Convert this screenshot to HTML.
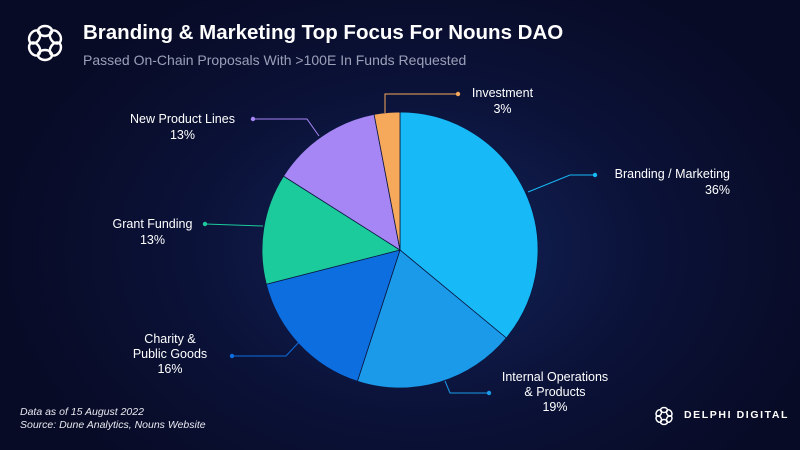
<!DOCTYPE html>
<html><head><meta charset="utf-8"><style>
html,body{margin:0;padding:0;}
body{width:800px;height:450px;overflow:hidden;background:radial-gradient(ellipse 420px 300px at 420px 250px,#13245a 0%,#0b1238 55%,#080b26 100%);font-family:"Liberation Sans",sans-serif;color:#fff;position:relative;}
.t{position:absolute;white-space:nowrap;}
</style></head><body>
<svg width="800" height="450" style="position:absolute;left:0;top:0">
<g fill="none" stroke="#fff" stroke-width="2.4">
<g transform="translate(45,43)">
<ellipse cx="0" cy="-12" rx="7" ry="5" transform="rotate(0)"/>
<ellipse cx="0" cy="-12" rx="7" ry="5" transform="rotate(60)"/>
<ellipse cx="0" cy="-12" rx="7" ry="5" transform="rotate(120)"/>
<ellipse cx="0" cy="-12" rx="7" ry="5" transform="rotate(180)"/>
<ellipse cx="0" cy="-12" rx="7" ry="5" transform="rotate(240)"/>
<ellipse cx="0" cy="-12" rx="7" ry="5" transform="rotate(300)"/>
</g>
</g>
<g fill="none" stroke="#fff" stroke-width="1.5">
<g transform="translate(664,416)">
<ellipse cx="0" cy="-6" rx="3.5" ry="2.5" transform="rotate(0)"/>
<ellipse cx="0" cy="-6" rx="3.5" ry="2.5" transform="rotate(60)"/>
<ellipse cx="0" cy="-6" rx="3.5" ry="2.5" transform="rotate(120)"/>
<ellipse cx="0" cy="-6" rx="3.5" ry="2.5" transform="rotate(180)"/>
<ellipse cx="0" cy="-6" rx="3.5" ry="2.5" transform="rotate(240)"/>
<ellipse cx="0" cy="-6" rx="3.5" ry="2.5" transform="rotate(300)"/>
</g>
</g>
<g stroke="#0c1640" stroke-width="0.8">
<path d="M400,250 L400,112 A138,138 0 0 1 506.3,338 Z" fill="#17b9f6"/>
<path d="M400,250 L506.3,338 A138,138 0 0 1 357.4,381.3 Z" fill="#1a9ae9"/>
<path d="M400,250 L357.4,381.3 A138,138 0 0 1 266.3,284.3 Z" fill="#0d6ee0"/>
<path d="M400,250 L266.3,284.3 A138,138 0 0 1 283.5,176.1 Z" fill="#1ccb9b"/>
<path d="M400,250 L283.5,176.1 A138,138 0 0 1 374.1,114.4 Z" fill="#a686f5"/>
<path d="M400,250 L374.1,114.4 A138,138 0 0 1 400,112 Z" fill="#f6a95b"/>
</g>
<g fill="none" stroke-width="1">
<path d="M528,192 L570,175 L595,175" stroke="#17b9f6"/>
<path d="M445,381 L450,393 L489,393" stroke="#1a9ae9"/>
<path d="M300,341 L286,356 L232,356" stroke="#0d6ee0"/>
<path d="M263,226 L205,224" stroke="#1ccb9b"/>
<path d="M319,136 L307,119 L253,119" stroke="#a686f5"/>
<path d="M385,113 L385,94 L458,94" stroke="#f6a95b"/>
</g>
<circle cx="595" cy="175" r="2.2" fill="#17b9f6"/>
<circle cx="489" cy="393" r="2.2" fill="#1a9ae9"/>
<circle cx="232" cy="356" r="2.2" fill="#0d6ee0"/>
<circle cx="205" cy="224" r="2.2" fill="#1ccb9b"/>
<circle cx="253" cy="119" r="2.2" fill="#a686f5"/>
<circle cx="458" cy="94" r="2.2" fill="#f6a95b"/>
</svg>
<div class="t" style="left:83px;top:21px;font-size:20.5px;font-weight:bold;">Branding &amp; Marketing Top Focus For Nouns DAO</div>
<div class="t" style="left:83px;top:52px;font-size:14px;color:#9aa0b8;">Passed On-Chain Proposals With &gt;100E In Funds Requested</div>

<div class="t" style="left:600px;top:166px;width:130px;text-align:right;font-size:12.5px;line-height:16px;">Branding / Marketing<br>36%</div>
<div class="t" style="left:490px;top:370px;width:130px;text-align:center;font-size:12.5px;line-height:15px;">Internal Operations<br>&amp; Products<br>19%</div>
<div class="t" style="left:120px;top:332px;width:100px;text-align:center;font-size:12.5px;line-height:15px;">Charity &amp;<br>Public Goods<br>16%</div>
<div class="t" style="left:100px;top:216px;width:105px;text-align:center;font-size:12.5px;line-height:16px;">Grant Funding<br>13%</div>
<div class="t" style="left:120px;top:111px;width:125px;text-align:center;font-size:12.5px;line-height:16px;">New Product Lines<br>13%</div>
<div class="t" style="left:455px;top:85px;width:95px;text-align:center;font-size:12.5px;line-height:16px;">Investment<br>3%</div>

<div class="t" style="left:20px;top:406px;font-size:10.5px;font-style:italic;line-height:13px;color:#e8e8f0;">Data as of 15 August 2022<br>Source: Dune Analytics, Nouns Website</div>
<div class="t" style="left:684px;top:409px;font-size:10.5px;letter-spacing:1.6px;font-weight:bold;">DELPHI DIGITAL</div>
</body></html>
